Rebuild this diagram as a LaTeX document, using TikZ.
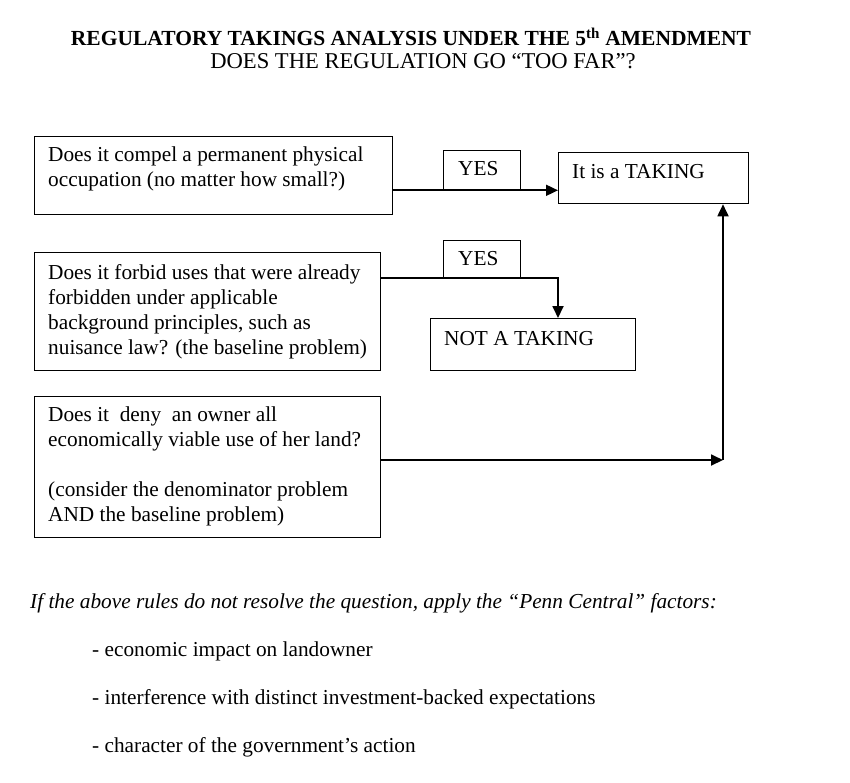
\documentclass[tikz,border=0pt]{standalone}
\usepackage{fontspec}
\setmainfont{Liberation Serif}
\usetikzlibrary{arrows.meta}
\begin{document}
\begin{tikzpicture}[x=1pt,y=-1pt,
  boxstyle/.style={draw=black, line width=1.3pt, inner sep=0pt, anchor=north west},
  txt/.style={inner sep=0pt, anchor=north west, align=left, font=\fontsize{21.3}{25}\selectfont},
  conn/.style={line width=1.8pt},
  arr/.style={conn, -{Triangle[length=12pt,width=11pt]}},
  para/.style={inner sep=0pt, anchor=west, font=\fontsize{21.3}{25}\selectfont}]
\useasboundingbox (0,0) rectangle (850,782);
% title
\node[inner sep=0pt, font=\fontsize{21.5}{25}\selectfont\bfseries] (title) at (411,37) {REGULATORY TAKINGS ANALYSIS UNDER THE 5\textsuperscript{th} AMENDMENT};
\node[inner sep=0pt, font=\fontsize{22.6}{25}\selectfont] (subtitle) at (423,61) {DOES THE REGULATION GO “TOO FAR”?};
% question boxes
\node[boxstyle, minimum width=358pt, minimum height=78pt] (q1) at (34,136) {};
\node[txt] (q1t) at ([shift={(14,11)}]q1.north west) {Does it compel a permanent physical\\occupation (no matter how small?)};
\node[boxstyle, minimum width=346pt, minimum height=118pt] (q2) at (34,252) {};
\node[txt] (q2t) at ([shift={(14,12)}]q2.north west) {Does it forbid uses that were already\\forbidden under applicable\\background principles, such as\\nuisance law? (the baseline problem)};
\node[boxstyle, minimum width=346pt, minimum height=141pt] (q3) at (34,396) {};
\node[txt] (q3t) at ([shift={(14,11)}]q3.north west) {Does it \ deny \ an owner all\\economically viable use of her land?\\[25pt](consider the denominator problem\\AND the baseline problem)};
% yes boxes
\node[boxstyle, minimum width=77pt, minimum height=39pt] (yes1) at (443,150) {};
\node[txt] (yes1t) at ([shift={(15,11)}]yes1.north west) {YES};
\node[boxstyle, minimum width=77pt, minimum height=38pt] (yes2) at (443,240) {};
\node[txt] (yes2t) at ([shift={(15,11)}]yes2.north west) {YES};
% outcome boxes
\node[boxstyle, minimum width=190pt, minimum height=51pt] (take) at (558,152) {};
\node[txt] (taket) at ([shift={(14,12)}]take.north west) {It is a TAKING};
\node[boxstyle, minimum width=205pt, minimum height=52pt] (not) at (430,318) {};
\node[txt] (nott) at ([shift={(14,13)}]not.north west) {NOT A TAKING};
% connectors
\draw[arr] (yes1.south -| q1.east) -- (yes1.south -| take.west);
\coordinate (c2) at (558,278);
\draw[arr] (c2 -| q2.east) -- (c2) -- (c2 |- not.north);
\coordinate (c3) at (723,460);
\draw[arr] (c3 -| q3.east) -- (c3);
\draw[arr] (c3) -- (c3 |- take.south);
% Penn Central
\node[para, font=\fontsize{21.3}{25}\selectfont\itshape] (pc) at (30,603) {If the above rules do not resolve the question, apply the “Penn Central” factors:};
\node[para] (f1) at (92,651) {- economic impact on landowner};
\node[para] (f2) at (92,699) {- interference with distinct investment-backed expectations};
\node[para] (f3) at (92,747) {- character of the government’s action};
\end{tikzpicture}
\end{document}
